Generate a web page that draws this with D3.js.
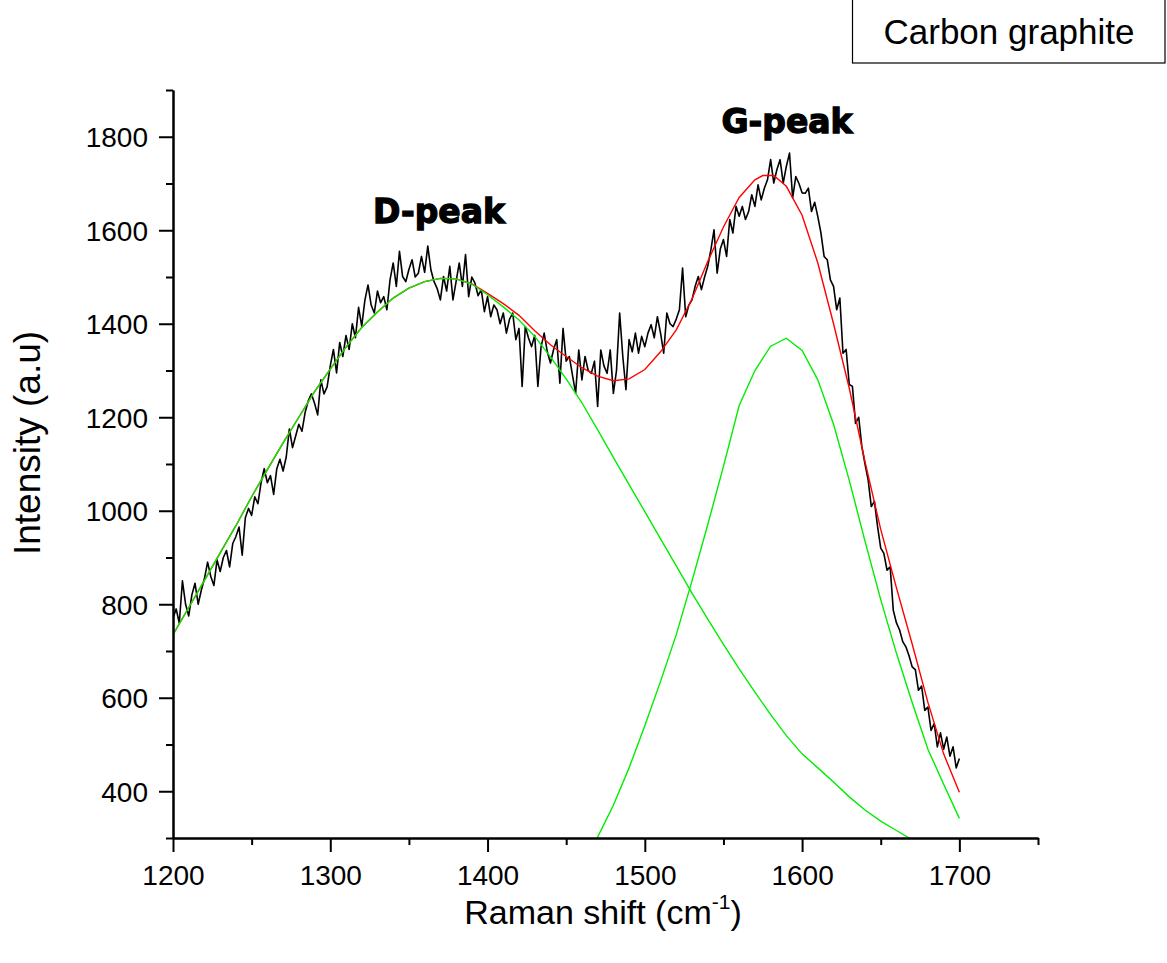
<!DOCTYPE html>
<html><head><meta charset="utf-8">
<script src="https://cdn.jsdelivr.net/npm/d3@7"></script>
<style>body{margin:0;background:#fff;} text{font-family:"Liberation Sans",Arial,sans-serif;}</style>
</head><body><svg id="chart" width="1167" height="963"></svg>
<script>
// Raw Raman spectrum: start shift, sampling step, intensities
const spectrumStart = 1200, spectrumStep = 2;
const spectrumIntensity = [
 770,790,760,850,800,775,820,845,800,830,
 855,890,860,840,895,870,900,915,880,930,
 945,965,905,985,1005,990,1030,1015,1060,1090,
 1060,1075,1035,1090,1110,1085,1115,1175,1135,1160,
 1185,1170,1210,1235,1250,1230,1205,1280,1250,1265,
 1310,1345,1295,1360,1330,1375,1345,1400,1370,1435,
 1395,1450,1483,1440,1423,1470,1445,1458,1430,1494,
 1530,1480,1555,1501,1490,1516,1537,1500,1508,1544,
 1510,1566,1515,1490,1475,1451,1501,1470,1523,1451,
 1490,1530,1480,1548,1458,1500,1487,1460,1473,1426,
 1458,1415,1440,1430,1400,1423,1380,1410,1423,1366,
 1390,1266,1394,1370,1351,1375,1266,1350,1380,1340,
 1316,1345,1366,1273,1390,1320,1330,1290,1251,1344,
 1280,1330,1300,1294,1320,1223,1344,1310,1294,1344,
 1251,1300,1423,1330,1259,1366,1340,1380,1337,1373,
 1351,1380,1398,1370,1415,1380,1337,1423,1400,1394,
 1410,1430,1519,1415,1440,1451,1480,1501,1473,1500,
 1523,1558,1601,1508,1560,1580,1544,1623,1594,1651,
 1630,1651,1623,1640,1676,1651,1697,1665,1690,1708,
 1751,1701,1730,1751,1701,1737,1765,1669,1715,1700,
 1680,1679,1690,1640,1660,1629,1594,1544,1537,1494,
 1480,1430,1455,1337,1345,1270,1266,1187,1200,1137,
 1100,1066,1009,1020,966,920,909,873,880,787,
 760,745,720,709,690,666,660,616,625,573,
 580,530,545,495,525,490,516,475,495,450,
 470
];
// D-band fitted component
const dPeakShift = [1200,1210,1220,1230,1240,1250,1260,1270,1280,1290,1300,1310,1320,1330,1340,1350,1360,1370,1380,1390,1400,1410,1420,1430,1440,1450,1460,1470,1480,1490,1500,1510,1520,1530,1540,1550,1560,1570,1580,1590,1600,1610,1620,1630,1640,1650,1660,1670,1680,1690,1700];
const dPeakIntensity = [735,793,851,910,968,1030,1088,1145,1200,1255,1303,1350,1392,1425,1455,1476,1490,1497,1496,1485,1462,1436,1408,1373,1329,1282,1231,1173,1114,1056,998,940,882,824,768,714,662,612,564,519,480,450,420,388,360,336,316,296,278,262,248];
// G-band fitted component
const gPeakShift = [1460,1470,1480,1490,1500,1510,1520,1530,1540,1550,1560,1570,1580,1590,1600,1610,1620,1630,1640,1650,1660,1670,1680,1690,1700];
const gPeakIntensity = [235,302,370,450,540,635,735,850,970,1095,1225,1300,1352,1369,1343,1280,1185,1065,935,810,695,590,490,415,342];
// Cumulative fit
const fitShift = [1200,1210,1220,1230,1240,1250,1260,1270,1280,1290,1300,1310,1320,1330,1340,1350,1360,1370,1380,1390,1400,1410,1420,1430,1440,1450,1460,1470,1480,1490,1500,1510,1520,1530,1540,1550,1560,1570,1575,1582,1590,1600,1610,1620,1630,1640,1650,1660,1670,1680,1690,1700];
const fitIntensity = [735,793,851,910,968,1030,1088,1145,1200,1255,1303,1350,1392,1425,1455,1476,1490,1497,1496,1485,1465,1443,1418,1385,1355,1330,1306,1288,1278,1282,1302,1340,1387,1453,1533,1607,1670,1708,1717,1717,1694,1632,1530,1400,1262,1105,960,835,715,590,480,398];

const xMajorTicks = [1200,1300,1400,1500,1600,1700];
const xMinorTicks = [1250,1350,1450,1550,1650,1750];
const yMajorTicks = [400,600,800,1000,1200,1400,1600,1800];
const yMinorTicks = [300,500,700,900,1100,1300,1500,1700,1900];

const svg = d3.select("#chart");
const x = d3.scaleLinear().domain([1200,1750]).range([173,1038]);
const y = d3.scaleLinear().domain([300,1900]).range([838,90]);

svg.append("defs").append("clipPath").attr("id","plotclip")
  .append("rect").attr("x",173).attr("y",90).attr("width",865).attr("height",748);

const plot = svg.append("g").attr("clip-path","url(#plotclip)");
const line = d3.line().x(d=>x(d[0])).y(d=>y(d[1]));

const spectrum = spectrumIntensity.map((v,i)=>[spectrumStart+i*spectrumStep, v]);
plot.append("path").attr("d", line(spectrum)).attr("fill","none").attr("stroke","#000").attr("stroke-width",1.6).attr("stroke-linejoin","round");
plot.append("path").attr("d", line(fitShift.map((s,i)=>[s,fitIntensity[i]]))).attr("fill","none").attr("stroke","#ff0000").attr("stroke-width",1.4);
plot.append("path").attr("d", line(dPeakShift.map((s,i)=>[s,dPeakIntensity[i]]))).attr("fill","none").attr("stroke","#00ee00").attr("stroke-width",1.4);
plot.append("path").attr("d", line(gPeakShift.map((s,i)=>[s,gPeakIntensity[i]]))).attr("fill","none").attr("stroke","#00ee00").attr("stroke-width",1.4);

function styleAxis(g){
  g.select(".domain").attr("stroke","#000").attr("stroke-width",2);
  g.selectAll(".tick line").attr("stroke","#000").attr("stroke-width",2);
  g.selectAll("text").attr("fill","#000").style("font-size","28px").style("font-family","'Liberation Sans',Arial,sans-serif");
}
// X axis
const gxMinor = svg.append("g").attr("transform","translate(0,838)")
  .call(d3.axisBottom(x).tickValues(xMinorTicks).tickSize(7).tickFormat("").tickSizeOuter(0));
styleAxis(gxMinor);
const gx = svg.append("g").attr("transform","translate(0,838)")
  .call(d3.axisBottom(x).tickValues(xMajorTicks).tickSize(14).tickPadding(13).tickSizeOuter(0).tickFormat(d3.format("d")));
styleAxis(gx);
// Y axis
const gyMinor = svg.append("g").attr("transform","translate(173,0)")
  .call(d3.axisLeft(y).tickValues(yMinorTicks).tickSize(7).tickFormat("").tickSizeOuter(0));
styleAxis(gyMinor);
const gy = svg.append("g").attr("transform","translate(173,0)")
  .call(d3.axisLeft(y).tickValues(yMajorTicks).tickSize(14).tickPadding(11).tickSizeOuter(0).tickFormat(d3.format("d")));
styleAxis(gy);
gy.selectAll("text").attr("dy","0.36em");

// Axis titles
svg.append("text").attr("transform","translate(40,443) rotate(-90)").attr("text-anchor","middle")
  .style("font-size","37px").text("Intensity (a.u)");
const xt = svg.append("text").attr("x",603).attr("y",924).attr("text-anchor","middle").style("font-size","34px");
xt.append("tspan").text("Raman shift (cm");
xt.append("tspan").attr("dy",-15).style("font-size","21px").text("-1");
xt.append("tspan").attr("dy",15).text(")");

// Peak labels
svg.append("text").attr("x",439).attr("y",223).attr("text-anchor","middle")
  .style("font-family","'DejaVu Sans',sans-serif").style("font-weight","bold").style("font-size","33px")
  .attr("stroke","#000").attr("stroke-width",1.3).text("D-peak");
svg.append("text").attr("x",787).attr("y",133).attr("text-anchor","middle")
  .style("font-family","'DejaVu Sans',sans-serif").style("font-weight","bold").style("font-size","33px")
  .attr("stroke","#000").attr("stroke-width",1.3).text("G-peak");

// Legend box
svg.append("rect").attr("x",852.5).attr("y",-2).attr("width",312.5).attr("height",65)
  .attr("fill","#fff").attr("stroke","#000").attr("stroke-width",1.2);
svg.append("text").attr("x",1009).attr("y",44).attr("text-anchor","middle").style("font-size","35px").text("Carbon graphite");
</script></body></html>
